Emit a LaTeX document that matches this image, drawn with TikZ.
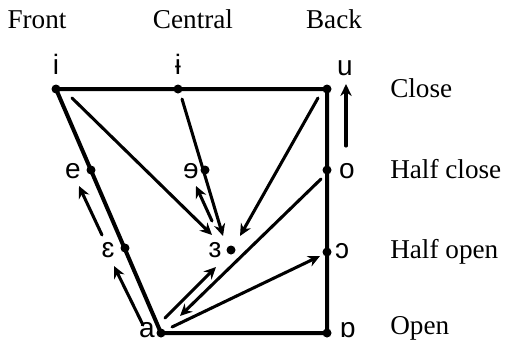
\documentclass[tikz,border=0pt]{standalone}
\usepackage{fontspec}
\setmainfont{Liberation Serif}
\newfontfamily\ipafont{Liberation Sans}
\usetikzlibrary{arrows.meta}

\begin{document}
\begin{tikzpicture}[>={Stealth[length=9pt,width=8.5pt]}, line join=round, line cap=round, x=0.75pt, y=-0.75pt,
	every node/.style={font=\fontsize{20.4}{24}\selectfont, inner sep=0pt},
	vowel/.style={anchor=base, font=\ipafont\fontsize{21}{24}\selectfont},
	rowlabel/.style={anchor=base west},
	edge/.style={line width=3pt},
	move/.style={->, line width=2.3pt}]
	
	\useasboundingbox (0,0) rectangle (506,347);
	
	% vowel points of the quadrilateral
	\coordinate (i) at (56,89);
	\coordinate (ibar) at (178,89);
	\coordinate (u) at (327,89);
	\coordinate (e) at (91,170);
	\coordinate (rev-e) at (205,170);
	\coordinate (o) at (327,170);
	\coordinate (eps) at (125,248);
	\coordinate (rev-eps) at (231,250);
	\coordinate (open-o) at (327,252);
	\coordinate (a) at (161,333);
	\coordinate (turned-a) at (327,333);
	
	\draw[edge] (i) -- (u) -- (turned-a) -- (a) -- cycle;
	
	\foreach \p in {i, ibar, u, e, rev-e, o, eps, rev-eps, open-o, a, turned-a} {
		\fill (\p) circle (4.5);
	}
	
	% column and row headings
	\node[anchor=base] (front) at (37,28) {Front};
	\node[anchor=base] (central) at (193,28) {Central};
	\node[anchor=base] (back) at (334,28) {Back};
	\node[rowlabel] (close) at (390,97) {Close};
	\node[rowlabel] (halfclose) at (390,178) {Half close};
	\node[rowlabel] (halfopen) at (390,258) {Half open};
	\node[rowlabel] (open) at (390,334) {Open};
	
	% vowel symbols
	\node[vowel] (l-i) at (56,74) {i};
	\node[vowel] (l-ibar) at (178,74) {ɨ};
	\node[vowel] (l-u) at (345,75) {u};
	\node[vowel] (l-e) at (73,178) {e};
	\node[vowel] (l-rev-e) at (191,178) {ɘ};
	\node[vowel] (l-o) at (347,178) {o};
	\node[vowel] (l-eps) at (108,257) {ɛ};
	\node[vowel] (l-rev-eps) at (215,257) {ɜ};
	\node[vowel] (l-open-o) at (342,258) {ɔ};
	\node[vowel] (l-a) at (147,337) {a};
	\node[vowel] (l-turned-a) at (348,337) {ɒ};
	
	% ends of the movement arrows
	\coordinate (i-s) at (72,98);      \coordinate (i-t) at (212,235);
	\coordinate (ibar-s) at (182,99);  \coordinate (ibar-t) at (223,236);
	\coordinate (u-s) at (318,98);     \coordinate (u-t) at (240,236);
	\coordinate (rev-eps-s) at (212,221); \coordinate (rev-e-t) at (196,186);
	\coordinate (eps-s) at (102,235);  \coordinate (e-t) at (79,186);
	\coordinate (a-s1) at (143,325);   \coordinate (eps-t) at (114,266);
	\coordinate (a-s2) at (165,318);   \coordinate (rev-eps-t) at (216,267);
	\coordinate (o-s1) at (321,179);   \coordinate (a-t) at (180,316);
	\coordinate (a-s3) at (172,327);   \coordinate (open-o-t) at (320,256);
	\coordinate (o-s2) at (346,146);   \coordinate (u-t2) at (346,84);
	
	\draw[move] (i-s) -- (i-t);
	\draw[move] (ibar-s) -- (ibar-t);
	\draw[move] (u-s) -- (u-t);
	\draw[move] (rev-eps-s) -- (rev-e-t);
	\draw[move] (eps-s) -- (e-t);
	\draw[move] (a-s1) -- (eps-t);
	\draw[move] (a-s2) -- (rev-eps-t);
	\draw[move] (o-s1) -- (a-t);
	\draw[move] (a-s3) -- (open-o-t);
	\draw[move] (o-s2) -- (u-t2);
	
\end{tikzpicture}
\end{document}
